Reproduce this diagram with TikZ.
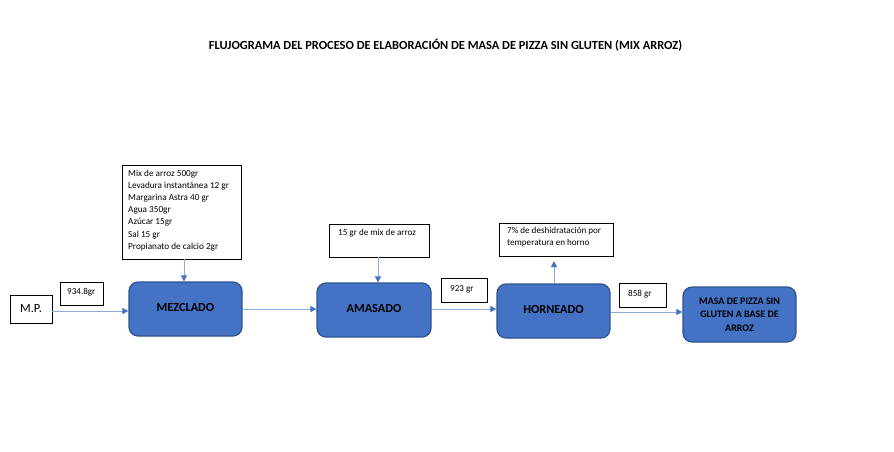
\documentclass[tikz,border=0pt]{standalone}
\usepackage{fontspec}
\setmainfont{Carlito}
\usetikzlibrary{arrows.meta}
\definecolor{boxfill}{HTML}{4472C4}
\definecolor{boxedge}{HTML}{2F528F}
\definecolor{arrowc}{HTML}{4472C4}
\definecolor{linec}{HTML}{8FAADC}
\tikzset{
  proc/.style={draw=boxedge, line width=1.2pt, fill=boxfill, rounded corners=9pt, font=\bfseries\fontsize{12.3}{13}\selectfont, align=center, inner sep=0pt, text depth=3pt},
  note/.style={draw=black, line width=0.6pt, fill=white, inner sep=0pt},
  flow/.style={draw=linec, line width=0.9pt, -{Triangle[length=6pt,width=6pt,color=arrowc]}},
  ntext/.style={font=\fontsize{9.1}{12.2}\selectfont, align=left, inner sep=0pt, anchor=north west}
}
\begin{document}
\begin{tikzpicture}[x=1pt,y=-1pt]
\useasboundingbox[fill=white] (0,0) rectangle (894,451);
\node[font=\bfseries\fontsize{12.4}{14}\selectfont] (title) at (445.5,45) {FLUJOGRAMA DEL PROCESO DE ELABORACIÓN DE MASA DE PIZZA SIN GLUTEN (MIX ARROZ)};

% M.P.
\node[note, minimum width=42pt, minimum height=28pt, font=\fontsize{12.5}{14}\selectfont] (mp) at (31,309) {M.P.};
\node[note, minimum width=43pt, minimum height=23pt] (w1) at (81.5,293.5) {};
\node[ntext, anchor=west] (w1t) at (67,292) {934.8gr};

% MEZCLADO
\node[proc, minimum width=113pt, minimum height=54pt] (mez) at (185.5,309) {MEZCLADO};
\node[note, minimum width=119pt, minimum height=94pt] (ing) at (181.5,212) {};
\node[ntext, font=\fontsize{9.2}{12.2}\selectfont] (ingt) at (128,169.5) {Mix de arroz 500gr\\Levadura instantánea 12 gr\\Margarina Astra 40 gr\\Agua 350gr\\Azúcar 15gr\\Sal 15 gr\\Propianato de calcio 2gr};

% AMASADO
\node[proc, minimum width=114pt, minimum height=54pt] (ama) at (374,310) {AMASADO};
\node[note, minimum width=100pt, minimum height=33pt] (mix) at (379,240.5) {};
\node[ntext] (mixt) at (338,229) {15 gr de mix de arroz};
\node[note, minimum width=46pt, minimum height=24pt] (w2) at (464,290) {};
\node[ntext, anchor=west] (w2t) at (450,289) {923 gr};

% HORNEADO
\node[proc, minimum width=113pt, minimum height=54pt] (hor) at (553.5,311) {HORNEADO};
\node[note, minimum width=114pt, minimum height=33pt] (des) at (556,239.5) {};
\node[ntext] (dest) at (507,227) {7\% de deshidratación por\\temperatura en horno};
\coordinate (desend) at (554,261);
\node[note, minimum width=47pt, minimum height=24pt] (w3) at (642.5,295) {};
\node[ntext, anchor=west] (w3t) at (628,294) {858 gr};

% final
\node[proc, minimum width=113pt, minimum height=55pt, text depth=0pt, font=\bfseries\fontsize{10}{13.3}\selectfont] (masa) at (739.5,314.5) {MASA DE PIZZA SIN\\GLUTEN A BASE DE\\ARROZ};

% connectors
\draw[flow] (mp.east |- 0,311) -- (mez.west |- 0,311);
\draw[flow] (ing.south -| 184,0) -- (mez.north -| 184,0);
\draw[flow] (mez.east |- 0,309) -- (ama.west |- 0,309);
\draw[flow] (mix.south -| 378,0) -- (ama.north -| 378,0);
\draw[flow] (ama.east |- 0,309) -- (hor.west |- 0,309);
\draw[flow] (hor.north -| 554,0) -- (desend);
\draw[flow] (hor.east |- 0,312) -- (masa.west |- 0,312);
\end{tikzpicture}
\end{document}
